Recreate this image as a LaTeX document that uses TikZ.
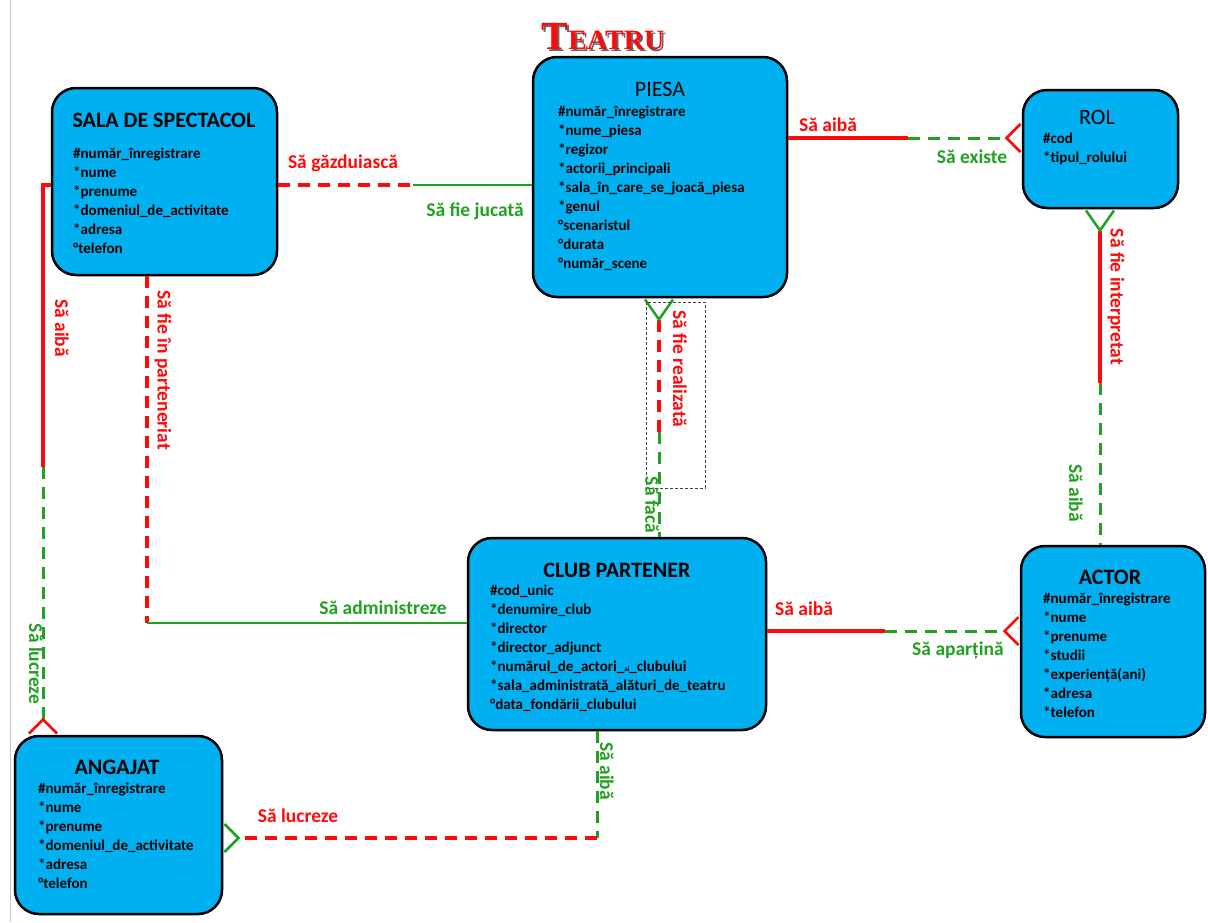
\documentclass[tikz,border=0pt]{standalone}
\usepackage{fontspec}
\setmainfont{Carlito}
\newfontfamily\titlefont{Liberation Serif}
\usepackage{tikz}
\usetikzlibrary{arrows,arrows.meta}
\usetikzlibrary{positioning}

\definecolor{boxblue}{RGB}{0,176,240}
\definecolor{relred}{RGB}{255,10,10}
\definecolor{relgreen}{RGB}{34,160,34}

\begin{document}
\begin{tikzpicture}[x=1pt,y=-1pt,
  entity/.style={draw=black,line width=2.5pt,fill=boxblue,rounded corners=24pt,inner sep=0pt},
  ehead/.style={font=\fontsize{22}{24}\selectfont\bfseries},
  eattr/.style={font=\fontsize{15}{19}\selectfont\bfseries,align=left,inner sep=0pt,anchor=north west},
  rsolid/.style={relred,line width=3.5pt},
  rdash/.style={relred,line width=3.5pt,dash pattern=on 12pt off 8pt},
  gsolid/.style={relgreen,line width=2.5pt},
  gdash/.style={relgreen,line width=3pt,dash pattern=on 12pt off 8pt},
  rlabel/.style={text=relred,font=\fontsize{19.5}{20}\selectfont\bfseries,inner sep=0pt},
  glabel/.style={text=relgreen,font=\fontsize{19.5}{20}\selectfont\bfseries,inner sep=0pt},
  crowR/.style={-{Straight Barb[reversed,length=14pt,width=28pt,line width=2.5pt,color=relred]}},
  crowG/.style={-{Straight Barb[reversed,length=14pt,width=28pt,line width=2.5pt,color=relgreen]}},
  crowGstart/.style={{Straight Barb[reversed,length=20pt,width=28pt,line width=2.5pt,color=relgreen]}-}]

  \useasboundingbox (0,0) rectangle (1208,922);
  \draw[gray!45,line width=1pt] (10,0) -- (10,922);

  % title
  \node[text=black!60] (titleshadow) at (605,39) {\titlefont\bfseries{\fontsize{40}{40}\selectfont T}{\fontsize{28}{28}\selectfont EATRU}};
  \node[text=relred] (title) at (603,37) {\titlefont\bfseries{\fontsize{40}{40}\selectfont T}{\fontsize{28}{28}\selectfont EATRU}};

  % entities
  \node[entity,minimum width=225pt,minimum height=187pt] (sala) at (164.5,181.5) {};
  \node[ehead] (salaT) at (164,120) {SALA DE SPECTACOL};
  \node[eattr] (salaA) at (73,148) {\#număr\_înregistrare\\*nume\\*prenume\\*domeniul\_de\_activitate\\*adresa\\°telefon};

  \node[entity,minimum width=254pt,minimum height=240pt] (piesa) at (660,177) {};
  \node[ehead,font=\fontsize{22}{24}\selectfont] (piesaT) at (660,89) {PIESA};
  \node[eattr] (piesaA) at (558,106) {\#număr\_înregistrare\\*nume\_piesa\\*regizor\\*actorii\_principali\\*sala\_în\_care\_se\_joacă\_piesa\\*genul\\°scenaristul\\°durata\\°număr\_scene};

  \node[entity,minimum width=155pt,minimum height=118pt] (rol) at (1100.5,149) {};
  \node[ehead,font=\fontsize{22}{24}\selectfont] (rolT) at (1097,117) {ROL};
  \node[eattr] (rolA) at (1043,133) {\#cod\\*tipul\_rolului};

  \node[entity,minimum width=298pt,minimum height=192pt] (club) at (617,634) {};
  \node[ehead] (clubT) at (617,570) {CLUB PARTENER};
  \node[eattr] (clubA) at (490,585) {\#cod\_unic\\*denumire\_club\\*director\\*director\_adjunct\\*numărul\_de\_actori\_{\fontsize{7}{7}\selectfont ai}\_clubului\\*sala\_administrată\_alături\_de\_teatru\\°data\_fondării\_clubului};

  \node[entity,minimum width=184pt,minimum height=191pt] (actor) at (1113,641.5) {};
  \node[ehead] (actorT) at (1110,577) {ACTOR};
  \node[eattr] (actorA) at (1043,593) {\#număr\_înregistrare\\*nume\\*prenume\\*studii\\*experiență(ani)\\*adresa\\*telefon};

  \node[entity,minimum width=207pt,minimum height=178pt] (angajat) at (118.5,825) {};
  \node[ehead] (angajatT) at (117,767) {ANGAJAT};
  \node[eattr] (angajatA) at (38,783) {\#număr\_înregistrare\\*nume\\*prenume\\*domeniul\_de\_activitate\\*adresa\\°telefon};

  % break points of the relations
  \coordinate (g1) at (413,185);
  \coordinate (g2) at (908,138);
  \coordinate (g3) at (1100,383);
  \coordinate (g4) at (659,432);
  \coordinate (g5) at (885,631);
  \coordinate (g6) at (147,623);
  \coordinate (g7a) at (43,185);
  \coordinate (g7) at (43,467);
  \coordinate (g8) at (597,838);

  % sala - piesa
  \draw[rdash] (sala.east |- g1) -- (g1);
  \draw[gsolid] (g1) -- (piesa.west |- g1);
  \node[rlabel] (l1a) at (343,163) {Să găzduiască};
  \node[glabel] (l1b) at (475,211) {Să fie jucată};

  % piesa - rol
  \draw[rsolid] (piesa.east |- g2) -- (g2);
  \draw[gdash,crowR] (g2) -- (rol.west |- g2);
  \node[rlabel] (l2a) at (828,125) {Să aibă};
  \node[glabel] (l2b) at (972,157) {Să existe};

  % rol - actor
  \draw[rsolid,crowGstart] (rol.south -| g3) -- (g3);
  \draw[gdash] (g3) -- (actor.north -| g3);
  \node[rlabel,rotate=-90] (l3a) at (1116,297) {Să fie interpretat};
  \node[glabel,rotate=-90] (l3b) at (1076,493) {Să aibă};

  % piesa - club
  \draw[rdash,crowGstart] (piesa.south -| g4) -- (g4);
  \draw[gdash] (g4) -- (club.north -| g4);
  \draw[black!75,line width=0.8pt,dash pattern=on 3pt off 2pt] (646,302) rectangle (705,488);
  \node[rlabel,rotate=-90] (l4a) at (680,369) {Să fie realizată};
  \node[glabel,rotate=-90] (l4b) at (652,505) {Să facă};

  % club - actor
  \draw[rsolid] (club.east |- g5) -- (g5);
  \draw[gdash,crowR] (g5) -- (actor.west |- g5);
  \node[rlabel] (l5a) at (804,609) {Să aibă};
  \node[glabel] (l5b) at (958,650) {Să aparțină};

  % sala - club
  \draw[rdash] (sala.south -| g6) -- (g6);
  \draw[gsolid] (g6) -- (club.west |- g6);
  \node[rlabel,rotate=-90] (l6a) at (163,370) {Să fie în parteneriat};
  \node[glabel] (l6b) at (383,608) {Să administreze};

  % sala - angajat
  \draw[rsolid] (sala.west |- g7a) -- (g7a) -- (g7);
  \draw[gdash,crowR] (g7) -- (angajat.north -| g7);
  \node[rlabel,rotate=-90] (l7a) at (62,328) {Să aibă};
  \node[glabel,rotate=-90] (l7b) at (36,664) {Să lucreze};

  % club - angajat
  \draw[gdash] (club.south -| g8) -- (g8);
  \draw[rdash,crowG] (g8) -- (angajat.east |- g8);
  \node[glabel,rotate=-90] (l8a) at (607,771) {Să aibă};
  \node[rlabel] (l8b) at (298,816) {Să lucreze};
\end{tikzpicture}
\end{document}
